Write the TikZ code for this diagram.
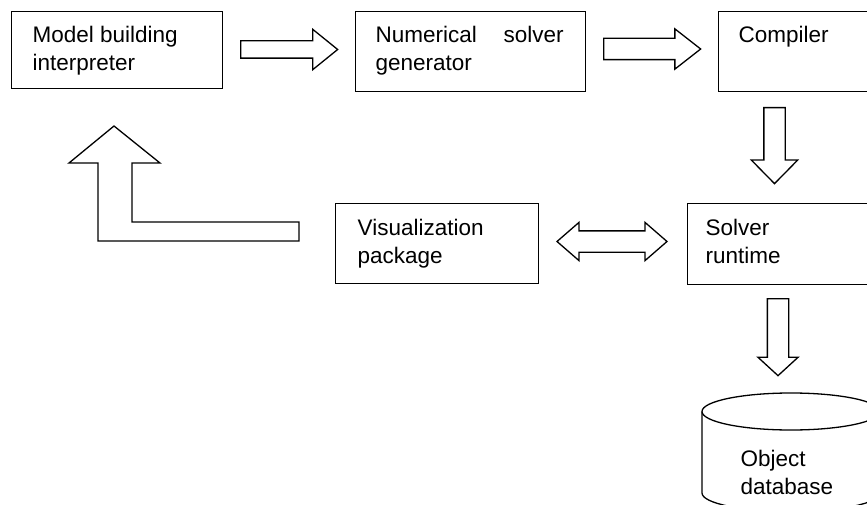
\documentclass[tikz,border=0pt]{standalone}
\usepackage{fontspec}
\setmainfont{Liberation Sans}
\usetikzlibrary{shapes.arrows}

\begin{document}
\begin{tikzpicture}[x=1pt,y=-1pt,line width=1.3pt,
  box/.style={rectangle,draw,inner sep=0pt,anchor=north west},
  txt/.style={anchor=base west,inner sep=0pt,align=left,font=\fontsize{22.5}{28}\selectfont},
  fat/.style={single arrow,draw,anchor=tail,inner xsep=0pt,inner ysep=10pt,single arrow head indent=0pt},
  fatboth/.style={double arrow,draw,inner xsep=0pt,inner ysep=10pt,double arrow head indent=0pt}]
\clip (0,0) rectangle (867,505);
\path (11,11) node(interp)[box,minimum width=211pt,minimum height=77pt]{}
(355,11) node(solvgen)[box,minimum width=230pt,minimum height=80pt]{}
(718,11) node(compiler)[box,minimum width=160pt,minimum height=80pt]{}
(335,203) node(vis)[box,minimum width=203pt,minimum height=80pt]{}
(687,203) node(runtime)[box,minimum width=190pt,minimum height=81pt]{};
% last baseline of each text
\path (32,71) node(interptxt)[txt]{Model building\\interpreter}
(375,71) node(solvgentxt)[txt]{\makebox[188pt][s]{Numerical solver}\\generator}
(738,43) node(compilertxt)[txt]{Compiler}
(357,263) node(vistxt)[txt]{Visualization\\package}
(705,263) node(runtimetxt)[txt]{Solver\\runtime}
(740,494) node(dbtxt)[txt]{Object\\database};
% block arrows
\path (240,49.5) node(a1)[fat,inner ysep=8pt,minimum height=97pt,minimum width=39pt,single arrow head extend=11.5pt,single arrow tip angle=78]{}
(603,49) node(a2)[fat,minimum height=97pt,minimum width=39pt,single arrow head extend=9.5pt,single arrow tip angle=76]{}
(774.5,107) node(a3)[fat,rotate=-90,minimum height=76pt,minimum width=45pt,single arrow head extend=12.5pt,single arrow tip angle=89]{}
(778,298) node(a4)[fat,rotate=-90,minimum height=77pt,minimum width=39pt,single arrow head extend=9.5pt,single arrow tip angle=95]{}
(612,241.5) node(a5)[fatboth,minimum height=110pt,minimum width=37pt,double arrow head extend=8.5pt,double arrow tip angle=82]{};
% feedback arrow
\draw (299,222) -- (132,222) -- (132,163) -- (160,163) -- (114,126) -- (69,163) -- (98,163) -- (98,241) -- (299,241) -- cycle;
% database
\draw (791,411.5) ellipse [x radius=89,y radius=18.5];
\draw (702,411.5) -- (702,493) arc [start angle=180,end angle=0,x radius=89,y radius=18.5] -- (880,411.5);
\end{tikzpicture}
\end{document}
